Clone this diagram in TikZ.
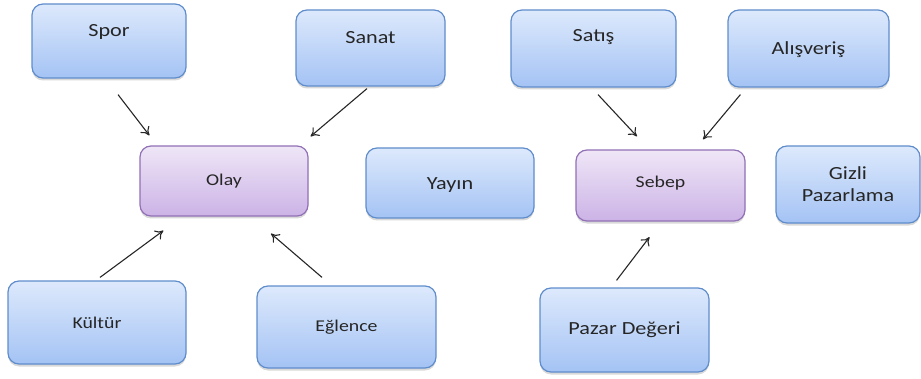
\documentclass[tikz,border=0pt]{standalone}
\usepackage{fontspec}
\setmainfont[FakeStretch=1.2]{Carlito}
\usetikzlibrary{arrows.meta,calc,shadows}
\definecolor{bluetop}{HTML}{DDE9FC}
\definecolor{bluebot}{HTML}{A4C3F4}
\definecolor{blueline}{HTML}{5F8DCC}
\definecolor{purtop}{HTML}{EFE6F7}
\definecolor{purbot}{HTML}{CCB3E6}
\definecolor{purline}{HTML}{9170B6}
\definecolor{txt}{HTML}{262626}
\tikzset{
  boxbase/.style={rounded corners=11pt, line width=1.2pt, inner sep=0pt,
    drop shadow={shadow xshift=0pt, shadow yshift=-2.5pt, opacity=0.25, fill=black!60},
    text=txt, align=center},
  bluebox/.style={boxbase, draw=blueline, top color=bluetop, bottom color=bluebot},
  purbox/.style={boxbase, draw=purline, top color=purtop, bottom color=purbot},
  big/.style={font=\fontsize{18.5}{22}\selectfont},
  small/.style={font=\fontsize{16.5}{19}\selectfont},
  arr/.style={-{To[length=8pt,width=11pt]}, line width=1.1pt, draw=black!85},
}
\begin{document}
\begin{tikzpicture}[x=1pt,y=1pt]
\useasboundingbox (0,0) rectangle (921,378);
% top row (y_tikz = 378 - y_px)
\node[bluebox, minimum width=154, minimum height=74,
  label={[big,text=txt,yshift=9pt]center:Spor}] (spor) at (109,337) {};
\node[bluebox, minimum width=149, minimum height=76,
  label={[big,text=txt,yshift=10pt]center:Sanat}] (sanat) at (370.5,330) {};
\node[bluebox, minimum width=165, minimum height=77,
  label={[big,text=txt,yshift=11pt]center:Satış}] (satis) at (593.5,329.5) {};
\node[bluebox, minimum width=161, minimum height=77,
  label={[big,text=txt,yshift=-1.5pt]center:Alışveriş}] (alis) at (808.5,329.5) {};
% middle row
\node[purbox, small, minimum width=168, minimum height=70] (olay) at (224,197) {Olay};
\node[bluebox, big, minimum width=168, minimum height=70,
  label={[big,text=txt,yshift=-2pt]center:Yayın}] (yayin) at (450,195) {};
\node[purbox, small, minimum width=169, minimum height=71,
  label={[small,text=txt,yshift=2pt]center:Sebep}] (sebep) at (660.5,192.5) {};
\node[bluebox, big, minimum width=144, minimum height=77] (gizli) at (848,193.5) {Gizli\\Pazarlama};
% bottom row
\node[bluebox, small, minimum width=178, minimum height=83] (kultur) at (97,55.5) {Kültür};
\node[bluebox, small, minimum width=179, minimum height=82] (eglence) at (346.5,51) {Eğlence};
\node[bluebox, big, minimum width=169, minimum height=84] (pazar) at (624.5,48) {Pazar Değeri};
% arrows
\draw[arr] ($(spor.south)+(9,-16)$) -- ($(olay.north west)+(10,10)$);
\draw[arr] ($(sanat.south)+(-3.5,-2)$) -- ($(olay.north east)+(2,9)$);
\draw[arr] ($(kultur.north)+(3,3)$) -- ($(olay.south west)+(24,-14)$);
\draw[arr] ($(eglence.north)+(-24.5,8)$) -- ($(olay.south)+(47,-17)$);
\draw[arr] ($(satis.south)+(4.5,-7)$) -- ($(sebep.north)+(-23.5,13)$);
\draw[arr] ($(alis.south west)+(13,-7)$) -- ($(sebep.north)+(42.5,10)$);
\draw[arr] ($(pazar.north)+(-8,7)$) -- ($(sebep.south)+(-11,-15.5)$);
\end{tikzpicture}
\end{document}
